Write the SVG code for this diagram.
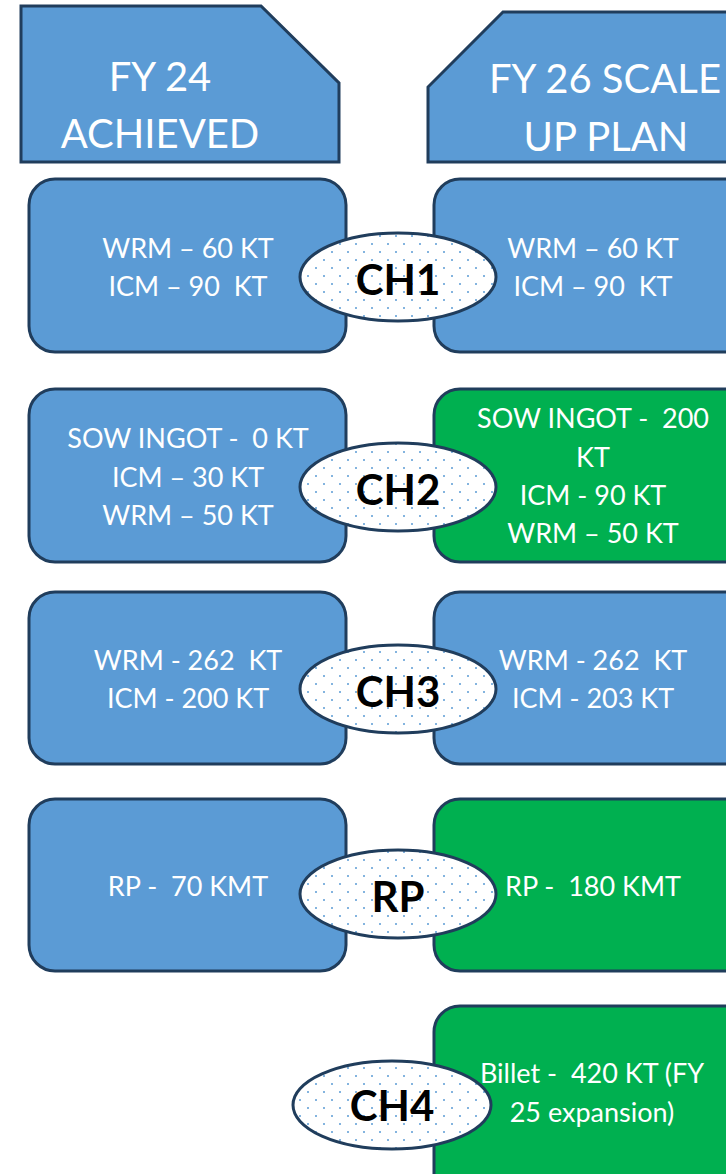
<svg xmlns="http://www.w3.org/2000/svg" width="726" height="1174" viewBox="0 0 726 1174">
  <style>
    text { white-space: pre; }
    .hdr { fill: #5b9bd5; stroke: #203d5c; stroke-width: 3; }
    .box { fill: #5b9bd5; stroke: #203d5c; stroke-width: 3; }
    .box.green { fill: #00b050; }
    .oval { fill: url(#dots); stroke: #203d5c; stroke-width: 3; }
    .htxt { font-family: Lato, "Liberation Sans", sans-serif; font-size: 40px; fill: #ffffff; text-anchor: middle; }
    .btxt { font-family: Lato, "Liberation Sans", sans-serif; font-size: 27px; fill: #ffffff; text-anchor: middle; }
    .otxt { font-family: Lato, "Liberation Sans", sans-serif; font-size: 42px; font-weight: bold; fill: #000000; text-anchor: middle; }
  </style>
  <defs>
    <!-- staggered dot fill for the channel ovals -->
    <pattern id="dots" patternUnits="userSpaceOnUse" width="16" height="16">
      <rect width="16" height="16" fill="#ffffff"/>
      <circle cx="4" cy="4" r="1" fill="#5b9bd5"/>
      <circle cx="12" cy="12" r="1" fill="#5b9bd5"/>
    </pattern>
  </defs>

  <!-- column headers -->
  <g id="hdr-fy24">
    <polygon class="hdr" points="21,6 261,6 339,83 339,162 21,162"/>
    <text class="htxt" x="160" y="91">FY 24</text>
    <text class="htxt" x="160" y="148">ACHIEVED</text>
  </g>
  <g id="hdr-fy26">
    <polygon class="hdr" points="503,12 760,12 760,162 428,162 428,87"/>
    <text class="htxt" x="605" y="93">FY 26 SCALE</text>
    <text class="htxt" x="606" y="151">UP PLAN</text>
  </g>

  <!-- row CH1 -->
  <g id="ch1-fy24">
    <rect class="box" x="29" y="179" width="317" height="173" rx="26"/>
    <text class="btxt" x="188" y="258">WRM – 60 KT</text>
    <text class="btxt" x="188" y="296">ICM – 90  KT</text>
  </g>
  <g id="ch1-fy26">
    <rect class="box" x="434" y="179" width="330" height="173" rx="26"/>
    <text class="btxt" x="593" y="258">WRM – 60 KT</text>
    <text class="btxt" x="593" y="296">ICM – 90  KT</text>
  </g>
  <g id="ch1">
    <ellipse class="oval" cx="398" cy="277" rx="98" ry="44"/>
    <text class="otxt" x="398" y="295">CH1</text>
  </g>

  <!-- row CH2 -->
  <g id="ch2-fy24">
    <rect class="box" x="29" y="389" width="317" height="173" rx="26"/>
    <text class="btxt" x="188" y="448">SOW INGOT -  0 KT</text>
    <text class="btxt" x="188" y="487">ICM – 30 KT</text>
    <text class="btxt" x="188" y="525">WRM – 50 KT</text>
  </g>
  <g id="ch2-fy26">
    <rect class="box green" x="434" y="389" width="330" height="173" rx="26"/>
    <text class="btxt" x="593" y="428">SOW INGOT -  200</text>
    <text class="btxt" x="593" y="467">KT</text>
    <text class="btxt" x="593" y="505">ICM - 90 KT</text>
    <text class="btxt" x="593" y="543">WRM – 50 KT</text>
  </g>
  <g id="ch2">
    <ellipse class="oval" cx="398" cy="487" rx="98" ry="44"/>
    <text class="otxt" x="398" y="505">CH2</text>
  </g>

  <!-- row CH3 -->
  <g id="ch3-fy24">
    <rect class="box" x="29" y="592" width="317" height="172" rx="26"/>
    <text class="btxt" x="188" y="670">WRM - 262  KT</text>
    <text class="btxt" x="188" y="708">ICM - 200 KT</text>
  </g>
  <g id="ch3-fy26">
    <rect class="box" x="434" y="592" width="330" height="172" rx="26"/>
    <text class="btxt" x="593" y="670">WRM - 262  KT</text>
    <text class="btxt" x="593" y="708">ICM - 203 KT</text>
  </g>
  <g id="ch3">
    <ellipse class="oval" cx="398" cy="689" rx="98" ry="44"/>
    <text class="otxt" x="398" y="707">CH3</text>
  </g>

  <!-- row RP -->
  <g id="rp-fy24">
    <rect class="box" x="29" y="799" width="317" height="172" rx="26"/>
    <text class="btxt" x="188" y="896">RP -  70 KMT</text>
  </g>
  <g id="rp-fy26">
    <rect class="box green" x="434" y="799" width="330" height="172" rx="26"/>
    <text class="btxt" x="593" y="896">RP -  180 KMT</text>
  </g>
  <g id="rp">
    <ellipse class="oval" cx="398" cy="894" rx="98" ry="44"/>
    <text class="otxt" x="398" y="912">RP</text>
  </g>

  <!-- row CH4 -->
  <g id="ch4-fy26">
    <rect class="box green" x="434" y="1006" width="330" height="200" rx="26"/>
    <text class="btxt" x="592" y="1083">Billet -  420 KT (FY</text>
    <text class="btxt" x="592" y="1122">25 expansion)</text>
  </g>
  <g id="ch4">
    <ellipse class="oval" cx="392" cy="1105" rx="99" ry="44"/>
    <text class="otxt" x="392" y="1121">CH4</text>
  </g>

  <g id="connectors"/>
</svg>
